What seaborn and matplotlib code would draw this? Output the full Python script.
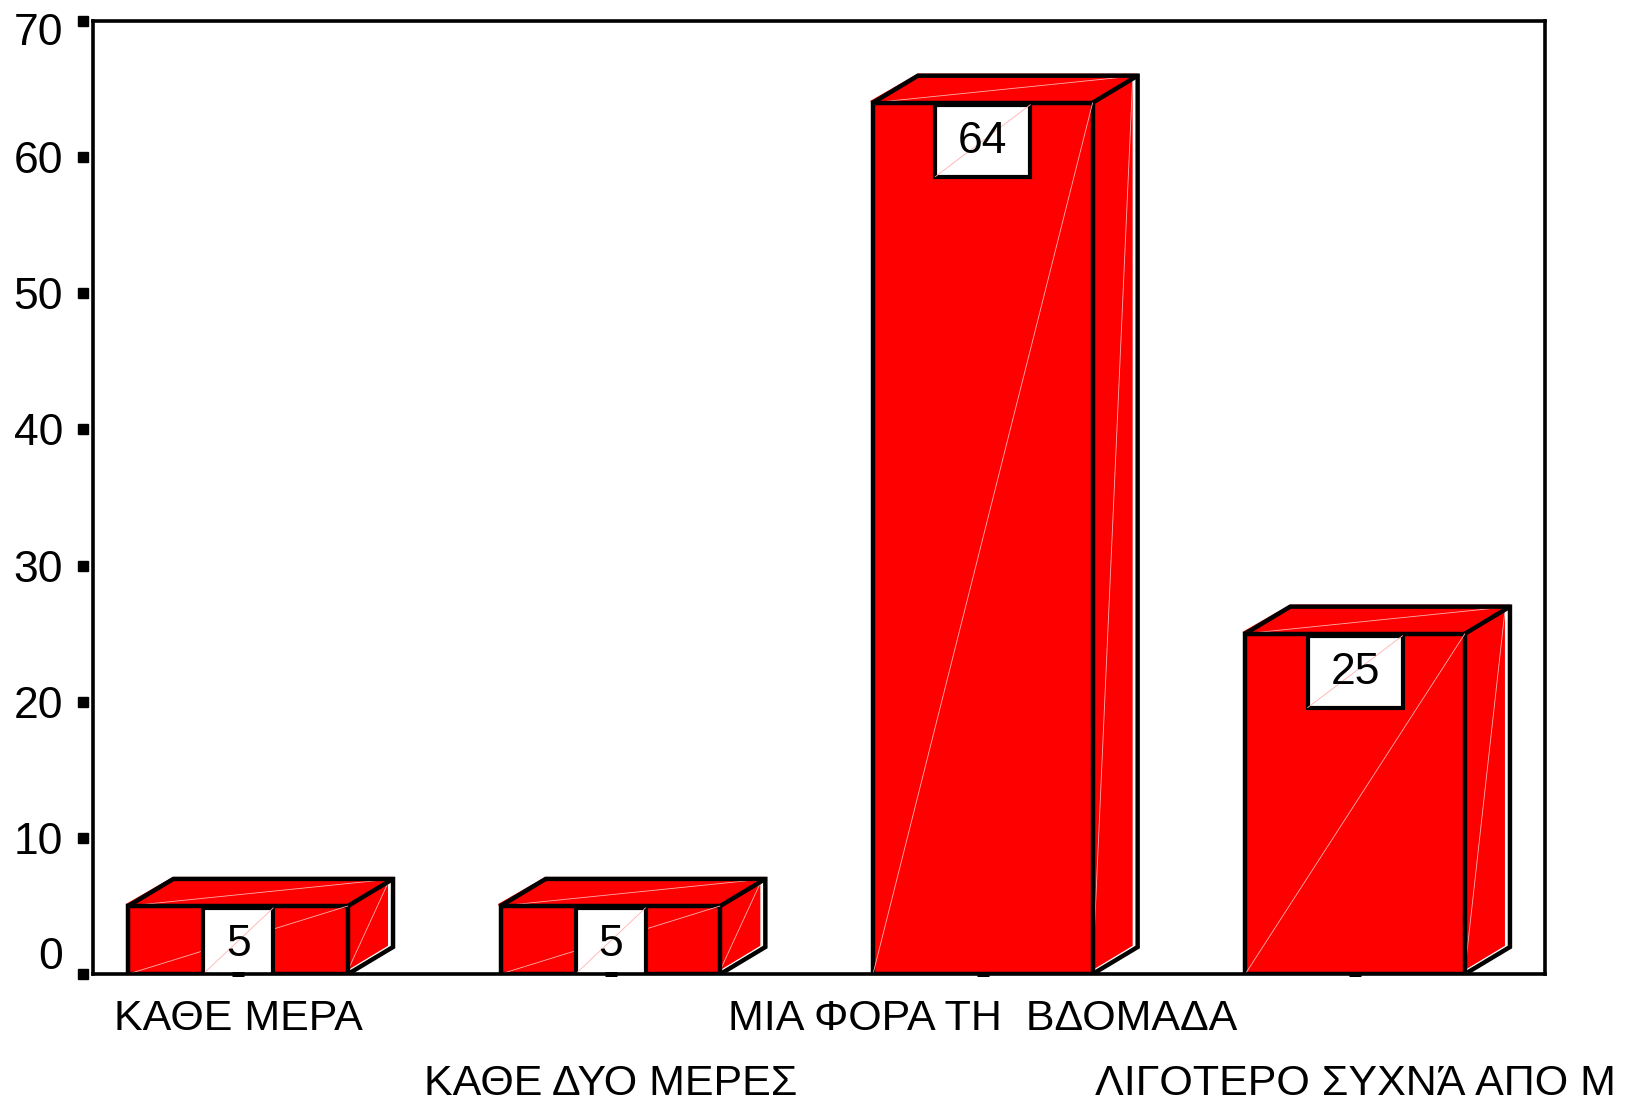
import matplotlib
matplotlib.use('Agg')
import matplotlib.pyplot as plt
import matplotlib.transforms as mtransforms
from matplotlib.patches import Polygon, Rectangle
import seaborn as sns
import pandas as pd

# ---- data ----
categories = ["ΚΑΘΕ ΜΕΡΑ", "ΚΑΘΕ ΔΥΟ ΜΕΡΕΣ", "ΜΙΑ ΦΟΡΑ ΤΗ  ΒΔΟΜΑΔΑ", "ΛΙΓΟΤΕΡΟ ΣΥΧΝΆ ΑΠΟ Μ"]
values = [5, 5, 64, 25]
value_labels = ["5", "5", "64", "25"]
y_ticks = [0, 10, 20, 30, 40, 50, 60, 70]

sns.set_theme(style='white')
plt.rcParams['font.family'] = ['Liberation Sans', 'DejaVu Sans']

W, H, DPI = 1645, 1102, 100
fig = plt.figure(figsize=(W / DPI, H / DPI), dpi=DPI)
ax_l, ax_r, ax_t, ax_b = 93, 1545, 21, 974
ax = fig.add_axes([ax_l / W, 1 - ax_b / H, (ax_r - ax_l) / W, (ax_b - ax_t) / H])

RED = '#ff0000'
df = pd.DataFrame({'cat': categories, 'val': values})
sns.barplot(data=df, x='cat', y='val', color=RED, saturation=1, width=0.59,
            edgecolor='black', linewidth=3.2, ax=ax, zorder=3)

XMIN, XMAX = -0.39, 3.51
YMIN, YMAX = 0, 70
ax.set_xlim(XMIN, XMAX)
ax.set_ylim(YMIN, YMAX)

px_x = (ax_r - ax_l) / (XMAX - XMIN)
px_y = (ax_b - ax_t) / (YMAX - YMIN)
dx = 45 / px_x
dy = 27 / px_y
gx = 5 / px_x
gy = 4 / px_y

bars = sorted(ax.patches, key=lambda p: p.get_x())
for p, lab in zip(bars, value_labels):
    x0 = p.get_x(); w = p.get_width(); h = p.get_height(); x1 = x0 + w
    # top face
    ax.add_patch(Polygon([(x0 - 2 / px_x, h + 1 / px_y), (x0 + dx, h + dy + 1 / px_y),
                          (x1 + dx, h + dy + 1 / px_y), (x1, h)],
                         closed=True, fc=RED, ec=RED, lw=1.5, zorder=2))
    # side face (with white gap before outline)
    ax.add_patch(Polygon([(x1, gy), (x1, h), (x1 + dx - gx, h + dy - gy * 0.6),
                          (x1 + dx - gx, dy + gy * 0.3)],
                         closed=True, fc=RED, ec='none', zorder=2))
    # faint diagonals
    ax.plot([x0, x1], [0, h], color='#ffb0b0', lw=0.6, zorder=3.5)
    ax.plot([x1, x1 + dx - gx], [gy, h + dy - gy], color='#ffb0b0', lw=0.6, zorder=2.5)
    ax.plot([x0, x1 + dx], [h, h + dy], color='#ffb0b0', lw=0.6, zorder=2.5)
    # black outline of top and side
    ax.plot([x0, x0 + dx, x1 + dx, x1 + dx, x1], [h, h + dy, h + dy, dy, 0],
            color='black', lw=3.2, zorder=4, solid_joinstyle='miter', solid_capstyle='butt')
    ax.plot([x1, x1 + dx], [h, h + dy], color='black', lw=3.2, zorder=4,
            solid_capstyle='butt')
    # value label box
    xc = x0 + w / 2
    bw = (95 if len(lab) > 1 else 70) / px_x
    bh = 72 / px_y
    btop = h - 2 / px_y
    ax.add_patch(Rectangle((xc - bw / 2, btop - bh), bw, bh, fc='white', ec='black',
                           lw=3, zorder=5))
    ax.plot([xc - bw / 2, xc + bw / 2], [max(btop - bh, 0), btop], color='#ffb0b0',
            lw=0.6, zorder=5.5)
    ax.text(xc, btop - bh / 2 - 1 / px_y, lab, ha='center', va='center', fontsize=32,
            color='black', zorder=6)

# spines
for s in ax.spines.values():
    s.set_visible(True)
    s.set_color('black')
    s.set_linewidth(2.6)
    s.set_zorder(7)

# y axis ticks (square marks detached from the spine)
ax.set_yticks(y_ticks)
ax.tick_params(axis='y', length=0, pad=21.6, labelsize=32, labelcolor='black')
blend = mtransforms.blended_transform_factory(ax.transAxes, ax.transData)
ax.plot([-10.5 / (ax_r - ax_l)] * len(y_ticks), y_ticks, transform=blend, marker='s',
        ms=7.9, ls='none', color='black', clip_on=False, zorder=8)

# x axis labels, staggered
ax.set_xticks(range(len(categories)))
ax.set_xticklabels(categories)
ax.tick_params(axis='x', length=0, pad=18, labelsize=31, labelcolor='black')
ax.plot(range(len(categories)), [0] * len(categories), marker='_', ms=8.6, mew=3.6,
        ls='none', color='black', clip_on=False, zorder=8)

ax.set_xlabel('')
ax.set_ylabel('')
ax.grid(False)

fig.canvas.draw()
for lbl in ax.get_yticklabels():
    t = lbl.get_text()
    if t == '70':
        off = -8
    elif t == '0':
        off = 21
    else:
        continue
    lbl.set_transform(lbl.get_transform() +
                      mtransforms.ScaledTranslation(0, off / DPI, fig.dpi_scale_trans))
for i, lbl in enumerate(ax.get_xticklabels()):
    if i % 2 == 1:
        lbl.set_transform(lbl.get_transform() +
                          mtransforms.ScaledTranslation(0, -65 / DPI, fig.dpi_scale_trans))

fig.savefig('out.png', dpi=DPI)
